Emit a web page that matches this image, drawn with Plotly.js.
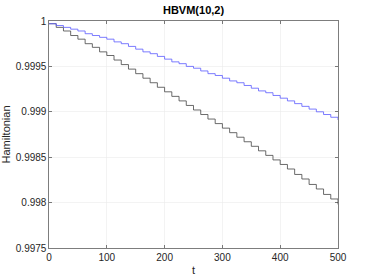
<!DOCTYPE html>
<html><head><meta charset="utf-8">
<script src="https://cdn.plot.ly/plotly-3.0.1.min.js"></script>
<style>html,body{margin:0;padding:0;background:#fff;}#plot{width:374px;height:280px;}</style>
</head><body><div id="plot"></div>
<script>
var tSteps = [0,12.5,25,37.5,50,62.5,75,87.5,100,112.5,125,137.5,150,162.5,175,187.5,200,212.5,225,237.5,250,262.5,275,287.5,300,312.5,325,337.5,350,362.5,375,387.5,400,412.5,425,437.5,450,462.5,475,487.5,500];
var hBlue = [0.99997,0.99995,0.99993,0.99991,0.99989,0.99986,0.99984,0.99982,0.99980,0.99977,0.99975,0.99972,0.99969,0.99966,0.99964,0.99961,0.99958,0.99955,0.99953,0.99950,0.99948,0.99945,0.99942,0.99940,0.99937,0.99934,0.99932,0.99929,0.99926,0.99923,0.99921,0.99918,0.99915,0.99912,0.99909,0.99906,0.99903,0.99900,0.99897,0.99894,0.99891];
var hBlack = [0.99997,0.99993,0.99989,0.99984,0.99980,0.99975,0.99971,0.99966,0.99962,0.99957,0.99952,0.99947,0.99942,0.99937,0.99932,0.99927,0.99922,0.99917,0.99912,0.99907,0.99902,0.99897,0.99892,0.99887,0.99882,0.99877,0.99872,0.99867,0.99862,0.99857,0.99852,0.99847,0.99842,0.99837,0.99831,0.99826,0.99820,0.99815,0.99809,0.99804,0.99798];
var xTicks = [0,100,200,300,400,500];
var yTicks = [0.9975,0.998,0.9985,0.999,0.9995,1];
var yTickText = ['0.9975','0.998','0.9985','0.999','0.9995','1'];

var traces = [
  {x: tSteps, y: hBlack, mode: 'lines', line: {color: '#454545', width: 0.8, shape: 'hv'}, hoverinfo: 'none'},
  {x: tSteps, y: hBlue, mode: 'lines', line: {color: '#5a5aff', width: 0.8, shape: 'hv'}, hoverinfo: 'none'}
];
var axisCommon = {
  showline: true, linecolor: '#262626', linewidth: 0.6, mirror: 'allticks',
  ticks: 'inside', ticklen: 3, tickwidth: 0.6, tickcolor: '#262626',
  showgrid: true, gridcolor: '#ebebeb', gridwidth: 0.6, zeroline: false,
  tickfont: {family: 'Liberation Sans, Arial, sans-serif', size: 10, color: '#262626'}
};
var layout = {
  width: 374, height: 280,
  margin: {l: 49, r: 36, t: 21, b: 32},
  paper_bgcolor: '#fff', plot_bgcolor: '#fff',
  showlegend: false,
  title: {text: '<b>HBVM(10,2)</b>', font: {family: 'Liberation Sans, Arial, sans-serif', size: 11, color: '#000'},
          x: 0.5175, xanchor: 'center', y: 0.963, yanchor: 'middle', yref: 'container'},
  xaxis: Object.assign({}, axisCommon, {range: [0, 500], tickvals: xTicks, ticktext: xTicks.map(String),
          title: {text: 't', font: {family: 'Liberation Sans, Arial, sans-serif', size: 11, color: '#262626'}, standoff: 4}}),
  yaxis: Object.assign({}, axisCommon, {range: [0.9975, 1], tickvals: yTicks, ticktext: yTickText,
          title: {text: 'Hamiltonian', font: {family: 'Liberation Sans, Arial, sans-serif', size: 11, color: '#262626'}, standoff: 4}})
};
Plotly.newPlot('plot', traces, layout, {staticPlot: true, displayModeBar: false});
</script></body></html>
